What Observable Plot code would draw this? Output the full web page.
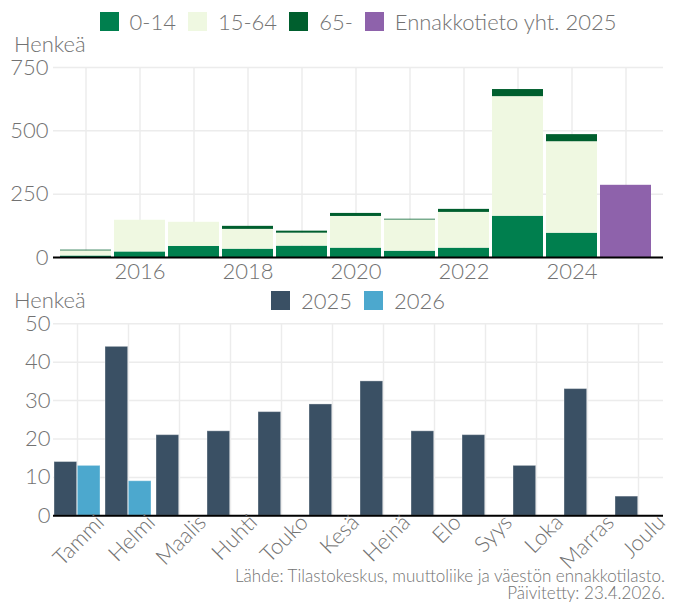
<!DOCTYPE html>
<html>
<head>
<meta charset="utf-8">
<script src="https://cdn.jsdelivr.net/npm/d3@7"></script>
<script src="https://cdn.jsdelivr.net/npm/@observablehq/plot@0.6"></script>
<style>
  html, body { margin: 0; padding: 0; background: white; }
  #wrap { position: relative; width: 678px; height: 603px; overflow: hidden; font-family: Lato, sans-serif; font-weight: 300; color: #727272; }
  .legend { position: absolute; display: flex; justify-content: center; align-items: center; font-size: 22px; line-height: 1; color: #727272; }
  .legend .item { display: flex; align-items: center; margin: 0 6px; }
  .legend .sw { width: 19px; height: 19px; margin-right: 11px; }
  .ylab { position: absolute; left: 14px; font-size: 22px; line-height: 16px; color: #727272; }
  .caption { position: absolute; right: 13px; top: 568.2px; font-size: 17px; line-height: 16.5px; text-align: right; color: #727272; white-space: nowrap; }
  svg text { font-weight: 300; }
</style>
</head>
<body>
<div id="wrap"></div>
<script>
// ---- Top chart data ----
const years = [2015, 2016, 2017, 2018, 2019, 2020, 2021, 2022, 2023, 2024];
const ageGroups = ["0-14", "15-64", "65-"];
const age0_14 = [6, 22, 44, 33, 45, 37, 25, 37, 163, 96];
const age15_64 = [20, 125, 95, 78, 51, 125, 123, 141, 472, 361];
const age65 = [3, 0, 0, 12, 8, 12, 3, 12, 28, 28];
const forecastLabel = "Ennakkotieto yht. 2025";
const forecastYear = 2025;
const forecastTotal = 285;
const topYTicks = [0, 250, 500, 750];
const topXTickLabels = [2016, 2018, 2020, 2022, 2024];

// ---- Bottom chart data ----
const months = ["Tammi", "Helmi", "Maalis", "Huhti", "Touko", "Kesä", "Heinä", "Elo", "Syys", "Loka", "Marras", "Joulu"];
const series2025 = [14, 44, 21, 22, 27, 29, 35, 22, 21, 13, 33, 5];
const series2026 = [13, 9];
const monthSeries = ["2025", "2026"];
const bottomYTicks = [0, 10, 20, 30, 40, 50];

const yLabel = "Henkeä";
const captionLines = ["Lähde: Tilastokeskus, muuttoliike ja väestön ennakkotilasto.", "Päivitetty: 23.4.2026."];

// ---- Styles ----
const ageColors = ["#007f4e", "#eff8e1", "#005f2e"];
const forecastColor = "#8e62ab";
const monthColors = ["#3a5064", "#4ca8ce"];
const gridColor = "#ececec";
const textColor = "#727272";

const wrap = document.getElementById("wrap");

const rows = [];
const seriesByGroup = [age0_14, age15_64, age65];
ageGroups.forEach((g, gi) => {
  years.forEach((y, i) => rows.push({year: y, group: g, value: seriesByGroup[gi][i]}));
});
const allYears = [...years, forecastYear];

const W = 678;
const topChart = Plot.plot({
  width: W, height: 290,
  marginTop: 67, marginBottom: 33, marginLeft: 53, marginRight: 15,
  style: {fontFamily: "Lato, sans-serif", fontSize: "22px", color: textColor, background: "white"},
  x: {type: "band", domain: allYears, paddingInner: 0.062, paddingOuter: 0.143, align: 0.35, axis: null},
  y: {domain: [0, 750], axis: null},
  color: {domain: ageGroups, range: ageColors},
  marks: [
    Plot.ruleX(allYears, {x: d => d, stroke: gridColor, strokeWidth: 1.5}),
    Plot.ruleY(topYTicks, {y: d => d, stroke: gridColor, strokeWidth: 1.5}),
    Plot.barY(rows, {x: "year", y: "value", fill: "group"}),
    Plot.barY([forecastTotal], {x: [forecastYear], y: d => d, fill: forecastColor}),
    Plot.ruleY([0], {stroke: "black", strokeWidth: 2}),
    Plot.axisY({ticks: topYTicks, tickSize: 0, tickPadding: 5, label: null}),
    Plot.axisX({tickSize: 0, tickPadding: 6, label: null,
      tickFormat: d => topXTickLabels.includes(d) ? String(d) : ""})
  ]
});
topChart.style.position = "absolute"; topChart.style.left = "0px"; topChart.style.top = "0px";
wrap.appendChild(topChart);

const step = 610 / (12 - 0.09);
const half = step * (1 - 0.09) / 2;
const bottomChart = Plot.plot({
  width: W, height: 290,
  marginTop: 33.3, marginBottom: 64.7, marginLeft: 53, marginRight: 15,
  style: {fontFamily: "Lato, sans-serif", fontSize: "22px", color: textColor, background: "white"},
  x: {type: "band", domain: months, paddingInner: 0.09, paddingOuter: 0, axis: null},
  y: {domain: [0, 50], axis: null},
  marks: [
    Plot.ruleX(months, {x: d => d, stroke: gridColor, strokeWidth: 1.5}),
    Plot.ruleY(bottomYTicks, {y: d => d, stroke: gridColor, strokeWidth: 1.5}),
    Plot.barY(series2025, {x: (d, i) => months[i], y: d => d, fill: monthColors[0], insetRight: half, stroke: "#ffffff", strokeOpacity: 0.35, strokeWidth: 1}),
    Plot.barY(series2026, {x: (d, i) => months[i], y: d => d, fill: monthColors[1], insetLeft: half, stroke: "#ffffff", strokeOpacity: 0.35, strokeWidth: 1}),
    Plot.ruleY([0], {stroke: "black", strokeWidth: 2}),
    Plot.axisY({ticks: bottomYTicks, tickSize: 0, tickPadding: 3, label: null}),
    Plot.axisX({tickSize: 0, tickPadding: 3, tickRotate: -45, dx: 23, dy: 0, label: null})
  ]
});
bottomChart.style.position = "absolute"; bottomChart.style.left = "0px"; bottomChart.style.top = "290px";
wrap.appendChild(bottomChart);

function legend(labels, colors, topPx) {
  const d = document.createElement("div");
  d.className = "legend";
  d.style.left = "53px"; d.style.width = "610px"; d.style.top = topPx + "px"; d.style.height = "19px";
  labels.forEach((l, i) => {
    const it = document.createElement("div"); it.className = "item";
    const sw = document.createElement("div"); sw.className = "sw"; sw.style.background = colors[i];
    const t = document.createElement("span"); t.textContent = l;
    it.appendChild(sw); it.appendChild(t); d.appendChild(it);
  });
  wrap.appendChild(d);
}
legend([...ageGroups, forecastLabel], [...ageColors, forecastColor], 12);
legend(monthSeries, monthColors, 291);

function ylab(topPx) {
  const d = document.createElement("div"); d.className = "ylab"; d.style.top = topPx + "px"; d.textContent = yLabel; wrap.appendChild(d);
}
ylab(35.5);
ylab(291.5);

const cap = document.createElement("div"); cap.className = "caption";
cap.innerHTML = captionLines.join("<br>");
wrap.appendChild(cap);
</script>
</body>
</html>
